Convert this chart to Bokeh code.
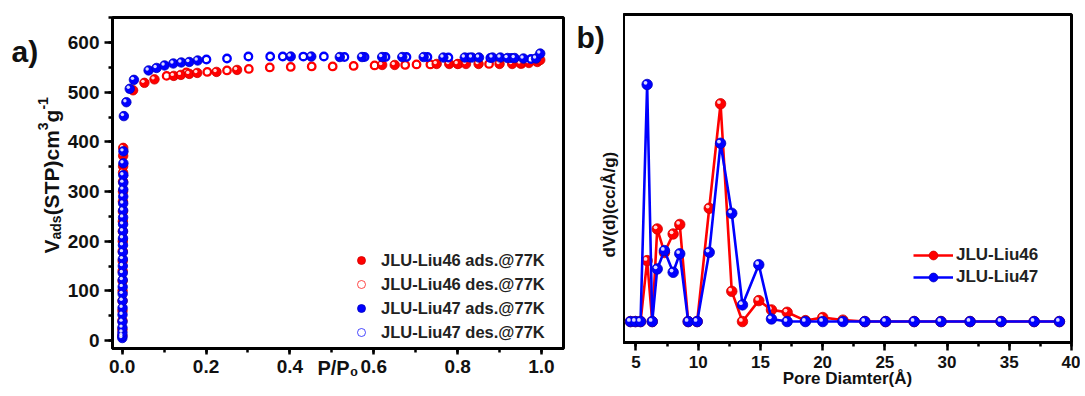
import math
from bokeh.plotting import figure
from bokeh.models import (Range1d, SingleIntervalTicker, Label, Legend, LegendItem,
                          NumeralTickFormatter, ColumnDataSource)
from bokeh.transform import dodge
from bokeh.layouts import row
from bokeh.embed import file_html
from bokeh.resources import INLINE

FONT = "Liberation Sans"
RED = "#FF0000"
BLUE = "#0000FF"
H = 392

# ---------------- panel a: N2 isotherms (P/P0, cm3/g) ----------------
liu46_ads_p = [0.0004, 0.0005, 0.0006, 0.0007, 0.0008, 0.0009, 0.0010, 0.0011, 0.0012,
               0.0013, 0.0014, 0.0015, 0.0016, 0.0017, 0.0018, 0.0019, 0.0020, 0.0021,
               0.0022, 0.0023, 0.0024, 0.026, 0.053, 0.077, 0.123, 0.140, 0.160, 0.179,
               0.225, 0.274, 0.620, 0.650, 0.750, 0.780, 0.800, 0.820, 0.850, 0.900,
               0.930, 0.950, 0.970, 0.990, 0.997]
liu46_ads_v = [10, 22, 40, 60, 80, 100, 120, 140, 160, 180, 200, 220, 240, 260, 280, 300,
               320, 338, 351, 372, 388, 504, 519, 526, 533, 535, 537, 539, 541, 545, 555,
               555, 557, 557, 557, 557, 557, 557, 557, 558, 559, 561, 565]
liu46_des_p = [0.106, 0.153, 0.203, 0.250, 0.302, 0.352, 0.402, 0.452, 0.502, 0.552,
               0.602, 0.675, 0.702, 0.735, 0.802, 0.875, 0.952]
liu46_des_v = [533, 540, 541, 544, 547, 550, 551, 552, 552, 553, 554, 555, 556, 556, 557,
               557, 557]
liu47_ads_p = [0.0003, 0.0004, 0.0005, 0.0006, 0.0007, 0.0008, 0.0009, 0.0010, 0.0011,
               0.0012, 0.0013, 0.0014, 0.0015, 0.0016, 0.0017, 0.0018, 0.0019, 0.0020,
               0.0021, 0.0022, 0.0023, 0.0024, 0.0025, 0.0026, 0.0027, 0.0028, 0.0029,
               0.0030, 0.004, 0.010, 0.018, 0.028, 0.063, 0.082, 0.101, 0.122, 0.141,
               0.160, 0.180, 0.402, 0.451, 0.519, 0.572, 0.620, 0.668, 0.719, 0.766,
               0.817, 0.834, 0.851, 0.883, 0.902, 0.919, 0.936, 0.957, 0.987, 0.997]
liu47_ads_v = [5, 9, 16, 26, 38, 52, 66, 80, 94, 108, 122, 136, 150, 164, 178, 192, 206,
               220, 234, 248, 262, 276, 290, 304, 318, 333, 357, 381, 452, 480, 507, 525,
               544, 549, 554, 558, 560, 561, 564, 572, 572, 571, 571, 571, 571, 571, 570,
               570, 570, 570, 570, 570, 569, 569, 568, 568, 578]
liu47_des_p = [0.201, 0.250, 0.301, 0.353, 0.383, 0.432, 0.481, 0.530, 0.578, 0.628,
               0.678, 0.728, 0.778, 0.828, 0.878, 0.928, 0.975]
liu47_des_v = [566, 568, 572, 572, 572, 572, 572, 571, 571, 571, 571, 571, 570, 570, 569,
               569, 567]

iso_x_ticks = [0.0, 0.2, 0.4, 0.6, 0.8, 1.0]
iso_y_ticks = [0, 100, 200, 300, 400, 500, 600]

# ---------------- panel b: pore size distribution ----------------
pore_d = [4.56, 4.96, 5.37, 5.90, 6.31, 6.71, 7.29, 7.99, 8.52, 9.20, 9.92, 10.89,
          11.80, 12.70, 13.56, 14.87, 15.89, 17.15, 18.62, 20.01, 21.63, 23.39, 25.06,
          27.36, 29.51, 31.85, 34.34, 37.00, 39.03]
liu46_dv = [0, 0, 0, 0.256, 0, 0.389, 0.290, 0.368, 0.408, 0, 0, 0.476, 0.915, 0.127,
            0, 0.088, 0.049, 0.039, 0.004, 0.017, 0.006, 0, 0, 0, 0, 0, 0, 0, 0]
liu47_dv = [0, 0, 0, 0.996, 0, 0.221, 0.298, 0.207, 0.285, 0, 0, 0.291, 0.749, 0.455,
            0.070, 0.239, 0.011, 0, 0, 0, 0, 0, 0, 0, 0, 0, 0, 0, 0]
pore_ticks = [5, 10, 15, 20, 25, 30, 35, 40]

# Liberation Sans Bold advance widths (per 1000 em) for label layout
ADV = {'V': 667, 'a': 556, 'd': 611, 's': 556, '(': 333, 'S': 667, 'T': 611, 'P': 667,
       ')': 333, 'c': 556, 'm': 889, 'g': 611, '3': 556, '-': 333, '1': 556, '/': 278,
       '0': 556}


def text_w(s, size):
    return sum(ADV.get(ch, 600) for ch in s) * size / 1000.0


def style_axis(ax, size, tick_out, minor_out, standoff):
    ax.axis_line_width = 3
    ax.axis_line_color = "black"
    ax.major_tick_line_width = 2.5
    ax.minor_tick_line_width = 2.5
    ax.major_tick_line_color = "black"
    ax.minor_tick_line_color = "black"
    ax.major_tick_out = tick_out
    ax.major_tick_in = 0
    ax.minor_tick_out = minor_out
    ax.minor_tick_in = 0
    ax.major_label_text_font = FONT
    ax.major_label_text_font_size = size
    ax.major_label_text_font_style = "bold"
    ax.major_label_text_color = "#111111"
    ax.major_label_standoff = standoff
    ax.axis_label_text_font = FONT
    ax.axis_label_text_font_style = "bold"
    ax.axis_label_text_color = "#111111"


def add_label(p, text, x, y, size, angle=0.0, align="left", baseline="alphabetic"):
    p.add_layout(Label(x=x, y=y, x_units="screen", y_units="screen", text=text,
                       text_font=FONT, text_font_size=f"{size}px", text_font_style="bold",
                       text_color="#111111", angle=angle, text_align=align,
                       text_baseline=baseline))


def balls(p, xs, ys, color, edge, size, dx, dy):
    src = ColumnDataSource(dict(x=xs, y=ys))
    r = p.scatter("x", "y", source=src, marker="circle", size=size, fill_color=color,
                  line_color=edge, line_width=0.8)
    p.scatter(x=dodge("x", dx, range=p.x_range), y=dodge("y", dy, range=p.y_range),
              source=src, marker="circle", size=size * 0.36, fill_color="white",
              fill_alpha=0.85, line_alpha=0)
    return r


def strip(w):
    s = figure(width=w, height=H, x_range=Range1d(0, w), y_range=Range1d(0, H),
               output_backend="svg", toolbar_location=None, min_border=0,
               x_axis_location=None, y_axis_location=None)
    s.outline_line_color = None
    s.grid.visible = False
    s.border_fill_color = "white"
    return s


NAN = float("nan")

# frames (canvas pixels): panel a 17..348 tall, panel b 14..342 tall
A_TOP, A_BOT = 17, 348
B_TOP, B_BOT = 14, 342

# ================= strip left of panel a (panel tag + y title) =================
# its frame gets aligned with panel a's frame -> y measured up from A_BOT
sa = strip(64)
add_label(sa, "a)", 11, A_BOT - 51, 30)
pieces = [("V", 21, 0), ("ads", 14, 4), ("(STP)cm", 21, 0), ("3", 14, -9), ("g", 21, 0),
          ("-1", 14, -9)]
pos = A_BOT - 253.0
for txt, sz, shift in pieces:
    add_label(sa, txt, 51 + shift, pos, sz, angle=math.pi / 2)
    pos += text_w(txt, sz)

# ================= panel a =================
pa = figure(width=506, height=H, x_range=Range1d(-0.0231, 1.0525),
            y_range=Range1d(-16.1, 650.6), output_backend="svg", toolbar_location=None,
            min_border_left=48, min_border_right=7, min_border_top=A_TOP,
            min_border_bottom=H - A_BOT)
pa.grid.visible = False
pa.outline_line_color = "black"
pa.outline_line_width = 3
pa.border_fill_color = "white"
pa.xaxis.ticker = SingleIntervalTicker(interval=iso_x_ticks[1] - iso_x_ticks[0], num_minor_ticks=2)
pa.xaxis.formatter = NumeralTickFormatter(format="0.0")
pa.yaxis.ticker = SingleIntervalTicker(interval=iso_y_ticks[1] - iso_y_ticks[0], num_minor_ticks=2)
style_axis(pa.xaxis[0], "19px", 6, 4, 5)
style_axis(pa.yaxis[0], "19px", 8, 4, 5)
pa.xaxis.axis_label = "P/P\u2080"
pa.xaxis.axis_label_text_font_size = "20px"
pa.xaxis.axis_label_standoff = -19

dxa, dya = -0.0035, 3.0
pa.scatter(liu46_des_p, liu46_des_v, marker="circle", size=7.5, fill_color="white",
           line_color=RED, line_width=2.3)
balls(pa, liu46_ads_p, liu46_ads_v, RED, "#D00000", 9.5, dxa, dya)
pa.scatter(liu47_des_p, liu47_des_v, marker="circle", size=7.5, fill_color="white",
           line_color=BLUE, line_width=2.3)
balls(pa, liu47_ads_p, liu47_ads_v, BLUE, "#0000C0", 9.5, dxa, dya)

# legend look carriers (single NaN point: never drawn in the plot)
lr1 = pa.scatter([NAN], [NAN], marker="circle", fill_color=RED, line_color="#D00000",
                 line_width=0.8)
lr2 = pa.scatter([NAN], [NAN], marker="circle", fill_color="white", line_color=RED,
                 line_width=1, line_alpha=0.7)
lr3 = pa.scatter([NAN], [NAN], marker="circle", fill_color=BLUE, line_color="#0000C0",
                 line_width=0.8)
lr4 = pa.scatter([NAN], [NAN], marker="circle", fill_color="white", line_color=BLUE,
                 line_width=1, line_alpha=0.7)
leg_a = Legend(items=[LegendItem(label="JLU-Liu46 ads.@77K", renderers=[lr1]),
                      LegendItem(label="JLU-Liu46 des.@77K", renderers=[lr2]),
                      LegendItem(label="JLU-Liu47 ads.@77K", renderers=[lr3]),
                      LegendItem(label="JLU-Liu47 des.@77K", renderers=[lr4])],
               location=(239, 6), padding=0, margin=0, spacing=4, glyph_width=20,
               glyph_height=20, label_height=20, label_standoff=10,
               label_text_font=FONT, label_text_font_size="16.5px",
               label_text_font_style="bold", label_text_color="#222222",
               border_line_alpha=0, background_fill_alpha=0)
pa.add_layout(leg_a)

# ================= strip left of panel b =================
sb = strip(53)
add_label(sb, "b)", 6, B_BOT - 37, 30)
add_label(sb, "dV(d)(cc/Å/g)", 39, B_BOT - 257, 17, angle=math.pi / 2)

# ================= panel b =================
pb = figure(width=457, height=H, x_range=Range1d(4, 40), y_range=Range1d(-0.088, 1.29),
            output_backend="svg", toolbar_location=None, min_border_left=0,
            min_border_right=9, min_border_top=B_TOP, min_border_bottom=H - B_BOT,
            y_axis_location=None)
pb.grid.visible = False
pb.outline_line_color = "black"
pb.outline_line_width = 3
pb.border_fill_color = "white"
pb.xaxis.ticker = SingleIntervalTicker(interval=pore_ticks[1] - pore_ticks[0], num_minor_ticks=2)
style_axis(pb.xaxis[0], "17px", 8, 4, 5)
pb.xaxis.axis_label = "Pore Diamter(Å)"
pb.xaxis.axis_label_text_font_size = "17px"
pb.xaxis.axis_label_standoff = -2

dxb, dyb = -0.13, 0.007
l46 = pb.line(pore_d, liu46_dv, line_color=RED, line_width=2.6)
m46 = balls(pb, pore_d, liu46_dv, RED, "#D00000", 10.5, dxb, dyb)
l47 = pb.line(pore_d, liu47_dv, line_color=BLUE, line_width=2.6)
m47 = balls(pb, pore_d, liu47_dv, BLUE, "#0000C0", 10.5, dxb, dyb)

leg_b = Legend(items=[LegendItem(label="JLU-Liu46", renderers=[l46, m46]),
                      LegendItem(label="JLU-Liu47", renderers=[l47, m47])],
               location=(290, 54), padding=0, margin=0, spacing=0, glyph_width=40,
               glyph_height=22, label_height=22, label_standoff=3,
               label_text_font=FONT, label_text_font_size="17px",
               label_text_font_style="bold", label_text_color="#222222",
               border_line_alpha=0, background_fill_alpha=0)
pb.add_layout(leg_b)

layout = row(row(sa, pa), row(sb, pb))
open("out.html", "w").write(file_html(layout, INLINE))
